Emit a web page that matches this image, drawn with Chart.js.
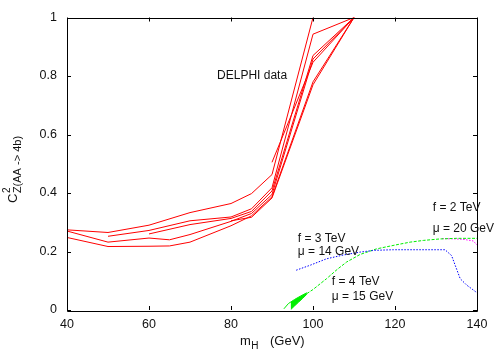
<!DOCTYPE html>
<html><head><meta charset="utf-8">
<script src="https://cdn.jsdelivr.net/npm/chart.js@4/dist/chart.umd.min.js"></script>
<style>html,body{margin:0;padding:0;background:#fff}#wrap{width:500px;height:350px}</style>
</head><body><div id="wrap"><canvas id="c" width="500" height="350"></canvas></div>
<script>
// Tick values / labels
const xTickValues = [40, 60, 80, 100, 120, 140];
const xTickLabels = ['40', '60', '80', '100', '120', '140'];
const yTickValues = [0, 0.2, 0.4, 0.6, 0.8, 1];
const yTickLabels = ['0', '0.2', '0.4', '0.6', '0.8', '1'];

// DELPHI data (red solid lines)
const delphi1X = [40, 50, 60, 70, 80, 85, 90, 100];
const delphi1Y = [0.274, 0.265, 0.29, 0.333, 0.364, 0.398, 0.463, 1.0];
const delphi2X = [50, 60, 70, 80, 85, 90, 100, 110];
const delphi2Y = [0.252, 0.272, 0.305, 0.318, 0.346, 0.418, 0.943, 1.0];
const delphi3X = [60, 70, 80, 85, 90, 100, 110];
const delphi3Y = [0.26, 0.292, 0.313, 0.337, 0.407, 0.87, 1.0];
const delphi4X = [40, 50, 60, 65, 70, 80, 85, 90, 100, 110];
const delphi4Y = [0.27, 0.232, 0.246, 0.24, 0.258, 0.303, 0.33, 0.395, 0.858, 1.0];
const delphi5X = [40, 50, 60, 65, 70, 80, 85, 90, 100, 110];
const delphi5Y = [0.248, 0.217, 0.218, 0.219, 0.232, 0.288, 0.322, 0.387, 0.78, 1.0];
const delphi6X = [90, 100, 110];
const delphi6Y = [0.505, 0.847, 1.0];
const delphi7X = [80, 85, 90, 100, 110];
const delphi7Y = [0.305, 0.317, 0.383, 0.77, 1.0];

// f = 3 TeV, mu = 14 GeV (blue dotted)
const blueX = [95.9, 99.3, 103.3, 107.4, 111.5, 115, 119.6, 125, 132.2, 133.8, 135.9, 137.5, 140];
const blueY = [0.136, 0.153, 0.175, 0.188, 0.198, 0.204, 0.206, 0.206, 0.206, 0.186, 0.107, 0.085, 0.059];

// f = 4 TeV, mu = 15 GeV (green dashed) and its thick start
const greenX = [98.5, 100, 103.3, 106, 108.2, 111.5, 115.5, 120, 123.7, 127, 131, 135, 140];
const greenY = [0.056, 0.07, 0.107, 0.14, 0.164, 0.19, 0.209, 0.222, 0.232, 0.238, 0.243, 0.245, 0.245];
const greenBlobUpperX = [92.9, 94, 95.5, 97, 98.5];
const greenBlobUpperY = [0.004, 0.022, 0.036, 0.048, 0.059];
const greenBlobLowerX = [94.6, 95.5, 96.5, 97.5, 98.5];
const greenBlobLowerY = [0.002, 0.014, 0.027, 0.04, 0.054];

// f = 2 TeV, mu = 20 GeV (magenta dotted)
const magentaX = [131.5, 135, 137, 139.1, 140];
const magentaY = [0.244, 0.243, 0.241, 0.236, 0.222];

const pts = (xs, ys) => xs.map((x, i) => ({ x: x, y: ys[i] }));

const FONT = "'Liberation Sans', Arial, Helvetica, sans-serif";

const redSets = [
  [delphi1X, delphi1Y], [delphi2X, delphi2Y], [delphi3X, delphi3Y], [delphi4X, delphi4Y],
  [delphi5X, delphi5Y], [delphi6X, delphi6Y], [delphi7X, delphi7Y]
].map(([xs, ys]) => ({
  data: pts(xs, ys), showLine: true, borderColor: '#ff0000', borderWidth: 1,
  pointRadius: 0, fill: false, tension: 0
}));

const datasets = redSets.concat([
  { data: pts(blueX, blueY), showLine: true, borderColor: '#0000ff', borderWidth: 1,
    borderDash: [1.5, 1.5], pointRadius: 0, fill: false },
  { data: pts(greenX, greenY), showLine: true, borderColor: '#00ee00', borderWidth: 1,
    borderDash: [3, 1.5], pointRadius: 0, fill: false },
  { data: pts(greenBlobUpperX, greenBlobUpperY), showLine: true, borderColor: '#00ee00', borderWidth: 1,
    pointRadius: 0, fill: '+1', backgroundColor: '#00ee00' },
  { data: pts(greenBlobLowerX, greenBlobLowerY), showLine: true, borderColor: '#00ee00', borderWidth: 1,
    pointRadius: 0, fill: false },
  { data: pts(magentaX, magentaY), showLine: true, borderColor: '#ff00ff', borderWidth: 1,
    borderDash: [1.5, 1.5], pointRadius: 0, fill: false }
]);

const notes = [
  { text: 'DELPHI data', x: 76.6, y: 0.8 },
  { text: 'f = 3 TeV', x: 96.3, y: 0.244 },
  { text: '\u03BC = 14 GeV', x: 96.3, y: 0.2 },
  { text: 'f = 4 TeV', x: 104.6, y: 0.097 },
  { text: '\u03BC = 15 GeV', x: 104.6, y: 0.047 },
  { text: 'f = 2 TeV', x: 129.2, y: 0.349 },
  { text: '\u03BC = 20 GeV', x: 129.2, y: 0.278 }
];

const framePlugin = {
  id: 'frame',
  afterDatasetsDraw(chart) {
    const { ctx, chartArea: a, scales } = chart;
    const xs = scales.x, ys = scales.y;
    ctx.save();
    ctx.strokeStyle = '#000';
    ctx.lineWidth = 1;
    ctx.beginPath();
    ctx.rect(Math.round(a.left) + 0.5, Math.round(a.top) + 0.5,
             Math.round(a.right - a.left), Math.round(a.bottom - a.top));
    ctx.stroke();
    const tl = 4;
    ctx.beginPath();
    xTickValues.forEach(v => {
      const px = Math.round(xs.getPixelForValue(v)) + 0.5;
      ctx.moveTo(px, a.bottom); ctx.lineTo(px, a.bottom - tl);
      ctx.moveTo(px, a.top); ctx.lineTo(px, a.top + tl);
    });
    yTickValues.forEach(v => {
      const py = Math.round(ys.getPixelForValue(v)) + 0.5;
      ctx.moveTo(a.left, py); ctx.lineTo(a.left + tl, py);
      ctx.moveTo(a.right, py); ctx.lineTo(a.right - tl, py);
    });
    ctx.stroke();

    // annotations
    ctx.fillStyle = '#111';
    ctx.font = '12px ' + FONT;
    ctx.textAlign = 'left';
    ctx.textBaseline = 'middle';
    notes.forEach(n => {
      ctx.fillText(n.text, xs.getPixelForValue(n.x), ys.getPixelForValue(n.y));
    });

    // x-axis title: m_H   (GeV)
    const cx = (a.left + a.right) / 2;
    ctx.textBaseline = 'alphabetic';
    ctx.font = '13px ' + FONT;
    let x0 = cx - 32;
    ctx.fillText('m', x0, 345);
    const mw = ctx.measureText('m').width;
    ctx.font = '10px ' + FONT;
    ctx.fillText('H', x0 + mw + 0.5, 349);
    ctx.font = '13px ' + FONT;
    ctx.fillText('(GeV)', x0 + 30, 345);

    // y-axis title: C^2_{Z(AA -> 4b)}
    ctx.save();
    ctx.translate(17, 203);
    ctx.rotate(-Math.PI / 2);
    ctx.font = '13px ' + FONT;
    ctx.fillText('C', 0, 0);
    const cw = ctx.measureText('C').width;
    ctx.font = '10px ' + FONT;
    ctx.fillText('2', cw + 0.5, -7);
    ctx.font = '11px ' + FONT;
    ctx.fillText('Z(AA -> 4b)', cw + 0.5, 4);
    ctx.restore();
    ctx.restore();
  }
};

new Chart(document.getElementById('c'), {
  type: 'scatter',
  data: { datasets: datasets },
  plugins: [framePlugin],
  options: {
    responsive: false,
    animation: false,
    layout: { padding: { left: 0, right: 23, top: 15, bottom: 0 } },
    plugins: { legend: { display: false }, tooltip: { enabled: false } },
    elements: { line: { tension: 0 } },
    scales: {
      x: {
        type: 'linear', min: 40, max: 140,
        grid: { display: false, drawTicks: false }, border: { display: false },
        afterBuildTicks: s => { s.ticks = xTickValues.map(v => ({ value: v })); },
        afterFit: s => { s.height = 40; },
        ticks: {
          padding: 7, color: '#111', font: { family: FONT, size: 12.5 },
          callback: (v) => xTickLabels[xTickValues.indexOf(v)] ?? ''
        }
      },
      y: {
        type: 'linear', min: 0, max: 1,
        grid: { display: false, drawTicks: false }, border: { display: false },
        afterBuildTicks: s => { s.ticks = yTickValues.map(v => ({ value: v })); },
        afterFit: s => { s.width = 67; },
        ticks: {
          padding: 10, color: '#111', font: { family: FONT, size: 12.5 },
          callback: (v) => { const i = yTickValues.findIndex(t => Math.abs(t - v) < 1e-9); return i >= 0 ? yTickLabels[i] : ''; }
        }
      }
    }
  }
});
</script>
</body></html>
